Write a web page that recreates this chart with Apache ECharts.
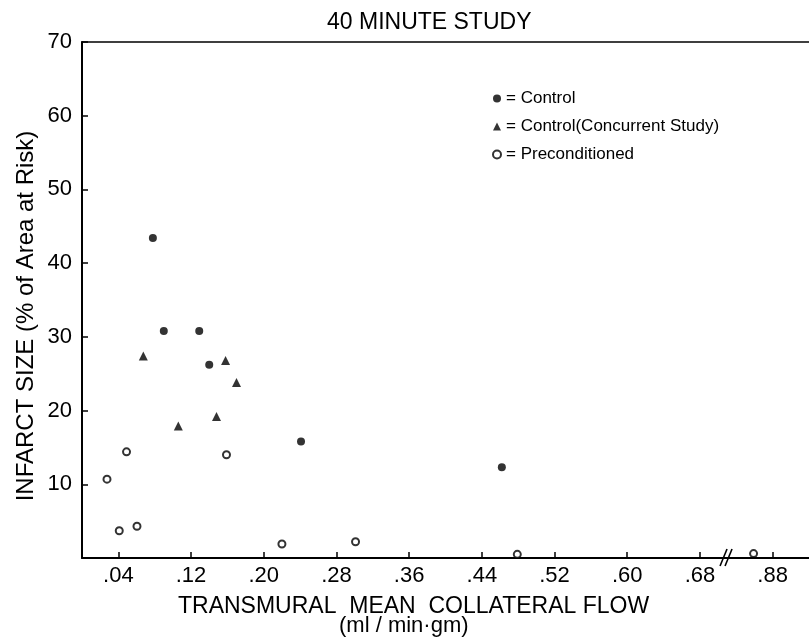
<!DOCTYPE html>
<html><head><meta charset="utf-8">
<script src="https://cdn.jsdelivr.net/npm/echarts@6/dist/echarts.min.js"></script>
<style>html,body{margin:0;padding:0;background:#fff}#c{width:809px;height:641px}</style>
</head><body><div id="c"></div>
<script>
// ---- data ----
const seriesNames = ['Control', 'Control(Concurrent Study)', 'Preconditioned'];
const xTickValues = [0.04, 0.12, 0.20, 0.28, 0.36, 0.44, 0.52, 0.60, 0.68, 0.88];
const xTickLabels = ['.04', '.12', '.20', '.28', '.36', '.44', '.52', '.60', '.68', '.88'];
const yTickLabels = ['10', '20', '30', '40', '50', '60', '70'];
const controlX = [0.078, 0.090, 0.129, 0.140, 0.241, 0.462];
const controlY = [43.4, 30.8, 30.8, 26.2, 15.8, 12.3];
const concurrentX = [0.0675, 0.106, 0.148, 0.158, 0.170];
const concurrentY = [27.4, 17.9, 19.2, 26.8, 23.8];
const precondX = [0.0275, 0.041, 0.049, 0.0605, 0.159, 0.220, 0.301, 0.479, 0.859];
const precondY = [10.7, 3.7, 14.4, 4.3, 14.0, 1.9, 2.2, 0.5, 0.6];

// broken x axis: the scale jumps from .68 to .88 (values >= .80 are drawn 0.12 to the left)
const BREAK_FROM = 0.80, BREAK_SHIFT = 0.12, BREAK_MARK_AT = 0.712;
const toAxis = v => (v >= BREAK_FROM ? v - BREAK_SHIFT : v);
const pairs = (xs, ys) => xs.map((x, i) => [toAxis(x), ys[i]]);

const FONT = '"Liberation Sans", Arial, sans-serif';
const chart = echarts.init(document.getElementById('c'), null, {renderer: 'canvas'});
const xAxisLabelPos = xTickValues.map(toAxis);

chart.setOption({
  backgroundColor: '#fff',
  animation: false,
  title: [
    {text: '40 MINUTE STUDY', left: 322, top: 6,
     textStyle: {fontFamily: FONT, fontSize: 23, fontWeight: 'normal', color: '#000'}},
    {text: 'TRANSMURAL  MEAN  COLLATERAL FLOW', left: 173, top: 590,
     textStyle: {fontFamily: FONT, fontSize: 23, fontWeight: 'normal', color: '#000'}},
    {text: '(ml / min·gm)', left: 334, top: 610,
     textStyle: {fontFamily: FONT, fontSize: 22, fontWeight: 'normal', color: '#000'}}
  ],
  legend: {
    orient: 'vertical', left: 487, top: 85, padding: 5, itemWidth: 8, itemHeight: 8, itemGap: 11,
    textStyle: {fontFamily: FONT, fontSize: 17, color: '#000', lineHeight: 17},
    formatter: n => '= ' + n,
    data: seriesNames
  },
  grid: {left: 82, right: 0, top: 42, bottom: 83, containLabel: false},
  xAxis: [{
    type: 'value', min: 0, max: 0.8, position: 'bottom',
    axisLine: {show: true, onZero: false, lineStyle: {color: '#000', width: 2}},
    axisTick: {show: true, inside: true, length: 6, customValues: xAxisLabelPos, lineStyle: {color: '#000', width: 1.5}},
    axisLabel: {customValues: xAxisLabelPos, margin: 7, color: '#000', fontFamily: FONT, fontSize: 22,
      formatter: v => { const i = xAxisLabelPos.findIndex(p => Math.abs(p - v) < 1e-6); return i >= 0 ? xTickLabels[i] : ''; }},
    splitLine: {show: false}
  }, {
    type: 'value', min: 0, max: 0.8, position: 'top',
    axisLine: {show: true, onZero: false, lineStyle: {color: '#000', width: 1.5}},
    axisTick: {show: false}, axisLabel: {show: false}, splitLine: {show: false}
  }],
  yAxis: {
    type: 'value', min: 0, max: 70, interval: 10,
    axisLine: {show: true, onZero: false, lineStyle: {color: '#000', width: 2}},
    axisTick: {show: true, inside: true, length: 6, lineStyle: {color: '#000', width: 1.5}},
    axisLabel: {margin: 10, color: '#000', fontFamily: FONT, fontSize: 22,
      formatter: v => { const i = Math.round(v / 10) - 1; return i >= 0 ? yTickLabels[i] : ''; }},
    splitLine: {show: false}
  },
  graphic: [{
    type: 'text', x: 26, y: 316, rotation: Math.PI / 2,
    style: {text: 'INFARCT SIZE (% of Area at Risk)', font: '24px ' + FONT, fill: '#000',
            align: 'center', verticalAlign: 'middle'}
  }],
  series: [
    {name: seriesNames[0], type: 'scatter', symbol: 'circle', symbolSize: 8,
     itemStyle: {color: '#000'}, data: pairs(controlX, controlY)},
    {name: seriesNames[1], type: 'scatter', symbol: 'triangle', symbolSize: 9,
     itemStyle: {color: '#000'}, data: pairs(concurrentX, concurrentY)},
    {name: seriesNames[2], type: 'scatter', symbol: 'emptyCircle', symbolSize: 7,
     itemStyle: {color: '#000', borderColor: '#000', borderWidth: 1.8}, data: pairs(precondX, precondY)},
    {type: 'custom', silent: true, clip: false, data: [[BREAK_MARK_AT, 0]],
     renderItem: (params, api) => {
       const p = api.coord([api.value(0), api.value(1)]);
       const st = {stroke: '#000', lineWidth: 1.6};
       return {type: 'group', children: [
         {type: 'line', shape: {x1: p[0] - 9, y1: p[1] + 8, x2: p[0] - 2, y2: p[1] - 9}, style: st},
         {type: 'line', shape: {x1: p[0] - 4, y1: p[1] + 8, x2: p[0] + 3, y2: p[1] - 9}, style: st}
       ]};
     }}
  ]
});
</script></body></html>
